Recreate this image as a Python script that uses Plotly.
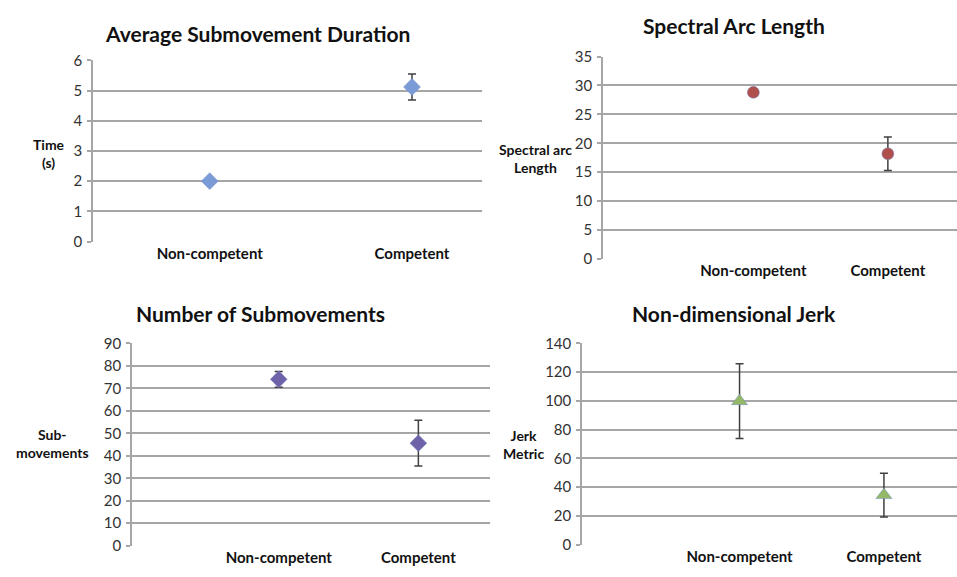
import plotly.graph_objects as go

categories = ["Non-competent", "Competent"]

duration_mean = [2.0, 5.12]
duration_err = [0.0, 0.43]

sal_mean = [28.8, 18.2]
sal_err = [0.0, 2.9]

subm_mean = [74.0, 45.6]
subm_err = [3.5, 10.2]

jerk_mean = [99.8, 34.5]
jerk_err = [26.0, 15.2]

titles = ["Average Submovement Duration", "Spectral Arc Length",
          "Number of Submovements", "Non-dimensional Jerk"]
ytitles = ["Time<br>(s)", "Spectral arc<br>Length", "Sub-<br>movements", "Jerk<br>Metric"]

W, H = 957, 577
FONT = "Lato, 'Open Sans', sans-serif"
GRID = "#a6a6a6"
ERRC = "#404040"

panels = [
    dict(x=(93, 482), y=(52, 239), rng=(-0.577, 1.346), ymax=6, dt=1,
         mean=duration_mean, err=duration_err, sym="diamond", col="#7b9bd6", size=13,
         title_xy=(257, 24), yt_xy=(49, 148)),
    dict(x=(603, 957), y=(48, 257), rng=(-1.118, 1.514), ymax=35, dt=5,
         mean=sal_mean, err=sal_err, sym="circle", col="#b0504c", size=12,
         title_xy=(734, 16), yt_xy=(535, 153)),
    dict(x=(132, 490), y=(344, 553), rng=(-1.051, 1.513), ymax=90, dt=10,
         mean=subm_mean, err=subm_err, sym="diamond", col="#6e63a8", size=13,
         title_xy=(260, 313), yt_xy=(52, 447)),
    dict(x=(582, 957), y=(344, 552), rng=(-1.091, 1.506), ymax=140, dt=20,
         mean=jerk_mean, err=jerk_err, sym="triangle-up", col="#93b866", size=14,
         title_xy=(734, 313), yt_xy=(523, 449)),
]

fig = go.Figure()
annotations = []
for i, p in enumerate(panels):
    n = "" if i == 0 else str(i + 1)
    fig.add_trace(go.Scatter(
        x=categories, y=p["mean"], mode="markers",
        marker=dict(symbol=p["sym"], color=p["col"], size=p["size"],
                    line=dict(color="rgba(120,140,200,0.5)", width=1)),
        error_y=dict(type="data", array=p["err"], visible=True,
                     color=ERRC, thickness=1.5, width=4),
        xaxis="x" + n, yaxis="y" + n, showlegend=False, cliponaxis=False))
    fig.update_layout(**{
        "xaxis" + n: dict(domain=[p["x"][0] / W, p["x"][1] / W], anchor="y" + n,
                          type="category", range=list(p["rng"]),
                          showgrid=False, zeroline=False, showline=False,
                          ticks="", ticklabelstandoff=1,
                          tickfont=dict(family=FONT, size=15, color="#111", weight="bold")),
        "yaxis" + n: dict(domain=[1 - p["y"][1] / H, 1 - p["y"][0] / H], anchor="x" + n,
                          range=[0, p["ymax"]], dtick=p["dt"], tick0=0,
                          showgrid=True, gridcolor=GRID, gridwidth=1.5,
                          showline=True, linecolor=GRID, linewidth=1.5,
                          zeroline=False, ticks="outside", ticklen=4,
                          tickcolor=GRID, tickwidth=1.5, ticklabelstandoff=2,
                          tickfont=dict(family=FONT, size=15, color="#333")),
    })
    annotations.append(dict(text="<b>%s</b>" % titles[i], x=p["title_xy"][0] / W,
                            y=1 - p["title_xy"][1] / H, xref="paper", yref="paper",
                            showarrow=False, xanchor="center", yanchor="middle",
                            font=dict(family=FONT, size=21, color="#111")))
    annotations.append(dict(text="<b>%s</b>" % ytitles[i], x=p["yt_xy"][0] / W,
                            y=1 - p["yt_xy"][1] / H, xref="paper", yref="paper",
                            showarrow=False, xanchor="center", yanchor="middle",
                            align="center",
                            font=dict(family=FONT, size=14, color="#111")))

fig.update_layout(width=W, height=H, margin=dict(l=0, r=0, t=0, b=0),
                  paper_bgcolor="white", plot_bgcolor="white",
                  annotations=annotations)

fig.write_html("out.html")
